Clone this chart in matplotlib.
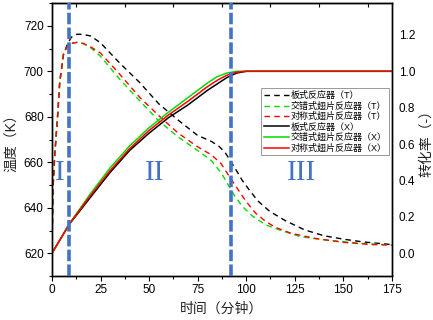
import matplotlib
matplotlib.use("Agg")
import matplotlib.pyplot as plt
from matplotlib.ticker import MultipleLocator, FixedLocator

plt.rcParams['font.family'] = ['Liberation Sans', 'Noto Sans CJK SC']

## Data

# temperature (K), left axis
t_plate = [0, 0.5, 1.5, 3, 4, 6, 8, 10, 13, 16, 20, 25, 35, 45, 55, 65, 75, 82, 86,
           89, 92, 95, 98, 101, 106, 112, 120, 130, 140, 150, 160, 175]
T_plate = [620, 648, 664, 681, 695, 707.5, 712, 715, 716.3, 716.2, 715.5, 712.5, 703.5,
           695.2, 685.7, 678.5, 671.8, 669.2, 667, 664.5, 660.5, 656.3, 652, 648.5, 643,
           638.5, 634.4, 630.3, 627.7, 626.2, 625, 623.8]

t_cross = [0, 0.5, 1.5, 3, 4, 6, 8, 10, 13, 16, 20, 25, 35, 45, 55, 65, 75, 82, 87,
           90, 94, 98, 103, 110, 118, 128, 140, 158, 175]
T_cross = [620, 648, 664, 682, 695.5, 708, 711, 712.3, 712.7, 712.2, 710.3, 706.6, 696.4,
           687.2, 678.2, 671.1, 665.2, 660.8, 655.5, 651.2, 645.3, 640.6, 636.5, 632.5,
           630, 627.3, 625.9, 624.4, 623.6]

t_sym = [0, 0.5, 1.5, 3, 4, 6, 8, 10, 13, 16, 20, 25, 35, 45, 55, 65, 75, 82, 87,
         90, 95, 100, 105, 110, 115, 123, 135, 150, 165, 175]
T_sym = [620, 648, 664, 682, 695.5, 708, 711, 712.3, 712.7, 712.3, 710.7, 708, 698.6,
         688.7, 680.5, 672.8, 666.8, 663.3, 659.5, 655.5, 649, 642.7, 637.5, 634, 631.4,
         628.8, 626.6, 624.8, 623.8, 623.6]

# conversion (-), right axis
t_X = [0, 9, 20, 30, 40, 50, 60, 70, 80, 85, 90, 95, 100, 175]
X_plate = [0, 0.16, 0.31, 0.445, 0.565, 0.66, 0.745, 0.815, 0.895, 0.93, 0.965, 0.99, 1.0, 1.0]
X_cross = [0, 0.163, 0.33, 0.47, 0.59, 0.69, 0.775, 0.855, 0.935, 0.97, 0.99, 1.0, 1.0, 1.0]
X_sym = [0, 0.162, 0.32, 0.455, 0.575, 0.675, 0.76, 0.835, 0.915, 0.95, 0.978, 0.995, 1.0, 1.0]

stage_bounds = [9, 92]
stage_names = ["I", "II", "III"]
stage_pos = [4, 53, 128.5]

names = ["板式反应器", "交错式翅片反应器", "对称式翅片反应器"]

## Plotting

fig = plt.figure(figsize=(4.33, 3.2), dpi=100)
ax = fig.add_axes([0.120, 0.1375, 0.785, 0.853])
ax2 = ax.twinx()

dash = (0, (4, 3))
green = "#00dd00"
h1, = ax.plot(t_plate, T_plate, color="black", ls=dash, lw=1.0)
h2, = ax.plot(t_cross, T_cross, color=green, ls=dash, lw=1.0)
h3, = ax.plot(t_sym, T_sym, color="red", ls=dash, lw=1.0)

h4, = ax2.plot(t_X, X_plate, color="black", lw=1.1)
h5, = ax2.plot(t_X, X_cross, color=green, lw=1.1)
h6, = ax2.plot(t_X, X_sym, color="red", lw=1.1)

for b in stage_bounds:
    ax2.axvline(b, color="#4472c4", lw=2.6, ls=(0, (3.2, 0.9)), zorder=5)

for name, x in zip(stage_names, stage_pos):
    ax.text(x, 655.5, name, color="#4472c4", fontsize=21, family="Liberation Serif",
            ha="center", va="center")

ax.set_xlim(0, 175)
ax.set_ylim(610, 730)
ax2.set_ylim(-0.125, 1.375)

ax.xaxis.set_major_locator(MultipleLocator(25))
ax.xaxis.set_minor_locator(MultipleLocator(12.5))
ax.yaxis.set_major_locator(MultipleLocator(20))
ax.yaxis.set_minor_locator(MultipleLocator(10))
ax2.yaxis.set_major_locator(FixedLocator([0, 0.2, 0.4, 0.6, 0.8, 1.0, 1.2]))

ax.tick_params(axis="both", which="major", direction="out", length=3.5, width=0.8,
               labelsize=8.5, pad=2.5)
ax.tick_params(axis="both", which="minor", direction="out", length=2, width=0.8)
ax2.tick_params(axis="y", length=0, labelsize=8.5, pad=5)

# top ticks pointing in, at half steps
top = ax.secondary_xaxis("top")
top.set_xticks([12.5, 37.5, 62.5, 87.5, 112.5, 137.5, 162.5])
top.tick_params(direction="in", length=3, width=0.8, labeltop=False)
top.set_xticklabels([])

ax.set_xlabel("时间（分钟）", fontsize=10, color="#222222", labelpad=4)
ax.set_ylabel("温度（K）", fontsize=10, color="#222222", labelpad=3)
ax2.set_ylabel("转化率（-）", fontsize=10, color="#222222", rotation=90, labelpad=3)

for a in (ax, ax2):
    for s in a.spines.values():
        s.set_linewidth(1.0)

labels = [names[0] + "（T）", names[1] + "（T）", names[2] + "（T）",
          names[0] + "（X）", names[1] + "（X）", names[2] + "（X）"]
leg = ax2.legend([h1, h2, h3, h4, h5, h6], labels, loc="upper right",
                 bbox_to_anchor=(0.993, 0.687), fontsize=6.5, labelspacing=0.15,
                 handlelength=2.8, handletextpad=0.2, borderpad=0.3,
                 fancybox=False, framealpha=1, edgecolor="#999999", borderaxespad=0)
leg.get_frame().set_linewidth(0.7)
leg.set_zorder(10)

plt.savefig("out.png", dpi=100)
